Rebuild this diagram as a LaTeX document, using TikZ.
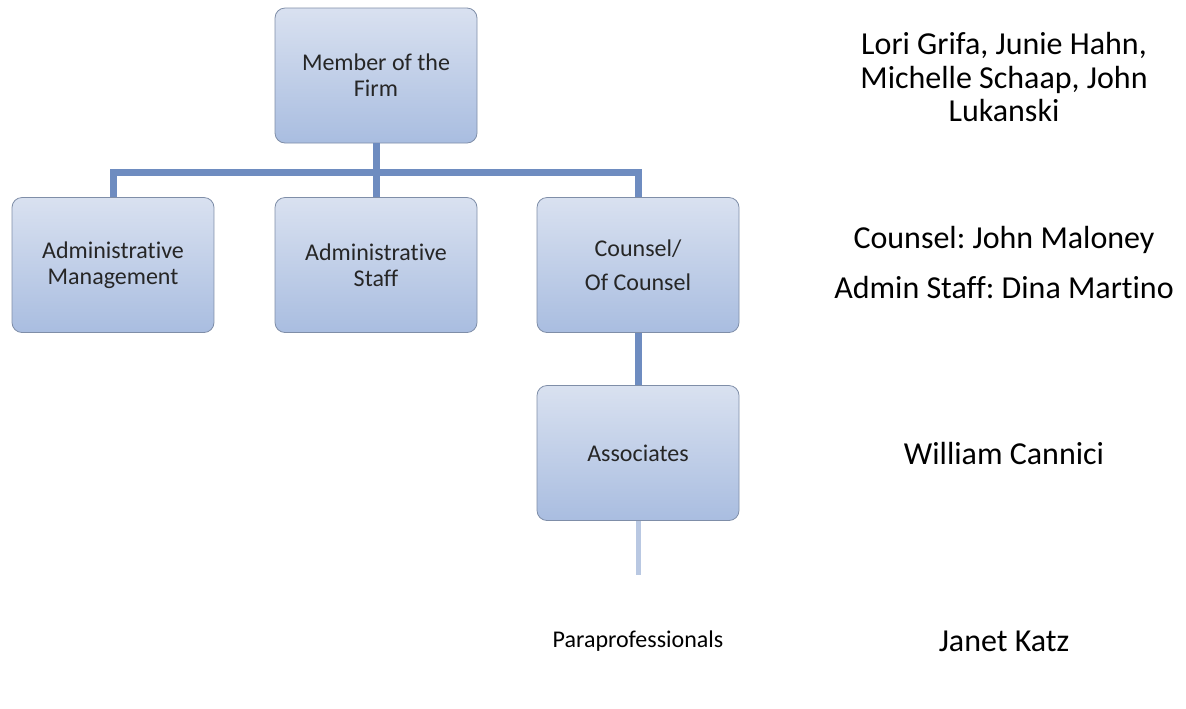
\documentclass[tikz,border=0pt]{standalone}
\usepackage{fontspec}
\setmainfont{Carlito}[Ligatures={NoCommon}]
\usepackage{tikz}
\usetikzlibrary{shapes,arrows,positioning}
\frenchspacing
\definecolor{boxtop}{HTML}{D9E1F0}
\definecolor{boxbot}{HTML}{A9BDE0}
\definecolor{boxline}{HTML}{7F8EA8}
\definecolor{linkblue}{HTML}{6E8CC0}
\definecolor{linkpale}{HTML}{B9C8E2}
\tikzset{
	rank/.style={rectangle,rounded corners=5pt,draw=boxline,thin,top color=boxtop,bottom color=boxbot,minimum width=101pt,minimum height=67.5pt,align=center,font=\fontsize{12}{13}\selectfont,text=black!85},
	link/.style={draw=linkblue,line width=3.5pt},
	who/.style={align=center,font=\fontsize{16}{16.5}\selectfont}
}

\begin{document}
\begin{tikzpicture}[x=.5pt,y=-.5pt]
			\useasboundingbox (0,0) rectangle (1186,708);
			\node[rank] (firm) at (376,75.5) {Member of the\\Firm};
			\node[rank] (mgmt) at (113,265) {Administrative\\Management};
			\node[rank] (staff) at (376,265) {Administrative\\Staff};
			\node[rank] (counsel) at (638,265) {Counsel/\\[4pt]Of Counsel};
			\node[rank] (assoc) at (638,453) {Associates};
			\node[rank,draw=none,top color=white,bottom color=white,text=black] (para) at (638,641) {Paraprofessionals};
			\coordinate (bus) at (376,172);
			\draw[link] (firm.south) -- (bus);
			\foreach \n in {mgmt,staff,counsel} \draw[link] (bus) -| (\n.north);
			\draw[link] (counsel.south) -- (assoc.north);
			\draw[draw=linkpale,line width=2.5pt] (assoc.south) -- ++(0,54);
			\node[who] (firmwho) at (1004,77) {Lori Grifa, Junie Hahn,\\Michelle Schaap, John\\Lukanski};
			\node[who] (counselwho) at (1004,240) {Counsel: John Maloney};
			\node[who] (staffwho) at (1004,288) {Admin Staff: Dina Martino};
			\node[who] (assocwho) at (1004,453) {William Cannici};
			\node[who] (parawho) at (1004,641) {Janet Katz};
		\end{tikzpicture}
\end{document}
